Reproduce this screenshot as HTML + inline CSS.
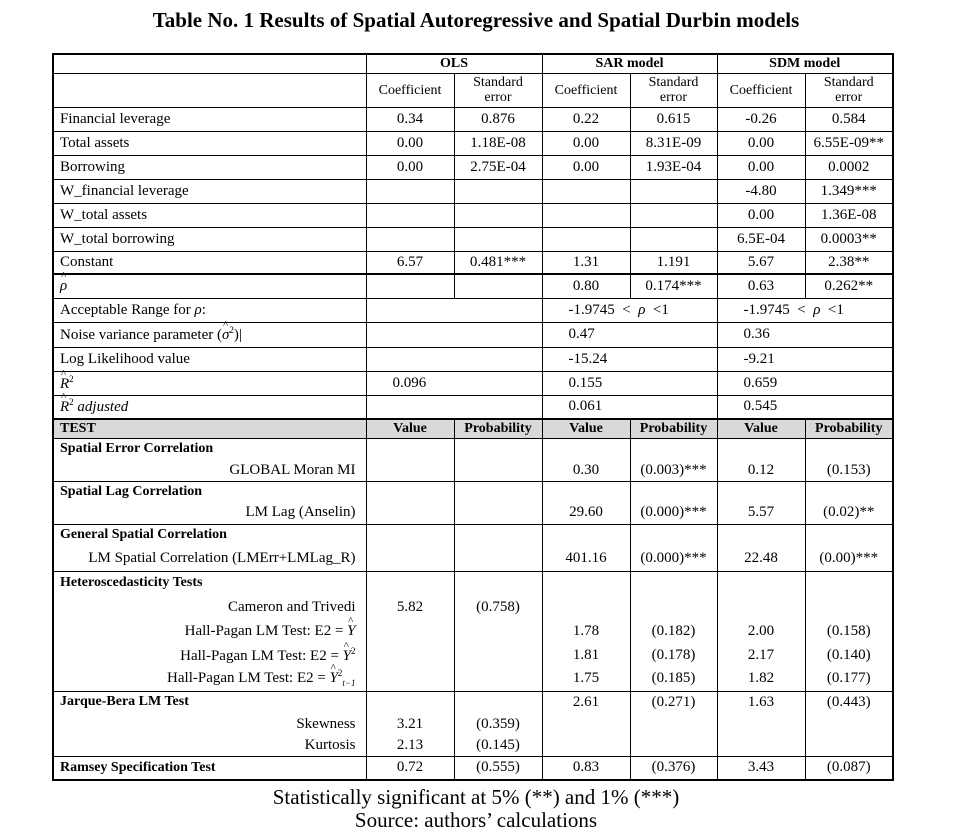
<!DOCTYPE html>
<html><head><meta charset="utf-8"><style>
body{margin:0;width:966px;height:840px;background:#fff;font-family:"Liberation Serif",serif;color:#000;position:relative;overflow:hidden}
.t{position:absolute;left:0;width:952px;text-align:center;font-weight:bold;font-size:21px;top:8px}
.f{position:absolute;left:0;width:952px;text-align:center;font-size:21px}
table{position:absolute;left:52px;top:53px;border-collapse:collapse;table-layout:fixed;font-size:15px;border:2px solid #000}
td{border-left:1px solid #000;border-right:1px solid #000;padding:0;text-align:center;white-space:nowrap;overflow:visible;line-height:1}
tr.b td{border-top:1px solid #000}
tr.k td{border-top:2px solid #000}
td.l{text-align:left;padding-left:6px}
td.r{text-align:right;padding-right:10px}
td.m{text-align:left;padding-left:26px}
.h td{font-size:14px;line-height:15px}
.g td{background:#d9d9d9;font-weight:bold;font-size:14px}
.bb{font-weight:bold;font-size:14px}
.hat{position:relative;display:inline-block}
.hat:before{content:"^";position:absolute;left:1px;top:-8px;font-size:11px;font-style:normal}
</style></head><body>
<div class="t">Table No. 1 Results of Spatial Autoregressive and Spatial Durbin models</div>
<table>
<colgroup><col style="width:313px"><col style="width:88px"><col style="width:88px"><col style="width:88px"><col style="width:87px"><col style="width:88px"><col style="width:88px"></colgroup>
<tr class="b" style="height:19px"><td></td><td colspan="2" class="bb">OLS</td><td colspan="2" class="bb">SAR model</td><td colspan="2" class="bb">SDM model</td></tr>
<tr class="b h" style="height:34px"><td></td><td>Coefficient</td><td>Standard<br>error</td><td>Coefficient</td><td>Standard<br>error</td><td>Coefficient</td><td>Standard<br>error</td></tr>
<tr class="b" style="height:24px"><td class="l">Financial leverage</td><td>0.34</td><td>0.876</td><td>0.22</td><td>0.615</td><td>-0.26</td><td>0.584</td></tr>
<tr class="b" style="height:24px"><td class="l">Total assets</td><td>0.00</td><td>1.18E-08</td><td>0.00</td><td>8.31E-09</td><td>0.00</td><td>6.55E-09**</td></tr>
<tr class="b" style="height:24px"><td class="l">Borrowing</td><td>0.00</td><td>2.75E-04</td><td>0.00</td><td>1.93E-04</td><td>0.00</td><td>0.0002</td></tr>
<tr class="b" style="height:24px"><td class="l">W_financial leverage</td><td></td><td></td><td></td><td></td><td>-4.80</td><td>1.349***</td></tr>
<tr class="b" style="height:24px"><td class="l">W_total assets</td><td></td><td></td><td></td><td></td><td>0.00</td><td>1.36E-08</td></tr>
<tr class="b" style="height:24px"><td class="l">W_total borrowing</td><td></td><td></td><td></td><td></td><td>6.5E-04</td><td>0.0003**</td></tr>
<tr class="b" style="height:23px"><td class="l">Constant</td><td>6.57</td><td>0.481***</td><td>1.31</td><td>1.191</td><td>5.67</td><td>2.38**</td></tr>
<tr class="k" style="height:24px"><td class="l"><i class="hat">ρ</i></td><td></td><td></td><td>0.80</td><td>0.174***</td><td>0.63</td><td>0.262**</td></tr>
<tr class="b" style="height:24px"><td class="l">Acceptable Range for <i>ρ</i>:</td><td colspan="2"></td><td colspan="2" class="m">-1.9745 &nbsp;&lt; &nbsp;<i>ρ</i> &nbsp;&lt;1</td><td colspan="2" class="m">-1.9745 &nbsp;&lt; &nbsp;<i>ρ</i> &nbsp;&lt;1</td></tr>
<tr class="b" style="height:25px"><td class="l">Noise variance parameter (<i class="hat">σ</i><sup style="font-size:9px">2</sup>)|</td><td colspan="2"></td><td colspan="2" class="m">0.47</td><td colspan="2" class="m">0.36</td></tr>
<tr class="b" style="height:24px"><td class="l">Log Likelihood value</td><td colspan="2"></td><td colspan="2" class="m">-15.24</td><td colspan="2" class="m">-9.21</td></tr>
<tr class="b" style="height:24px"><td class="l"><i class="hat">R</i><sup style="font-size:9px">2</sup></td><td colspan="2" class="m">0.096</td><td colspan="2" class="m">0.155</td><td colspan="2" class="m">0.659</td></tr>
<tr class="b" style="height:24px"><td class="l"><i class="hat">R</i><sup style="font-size:9px">2</sup> <i>adjusted</i></td><td colspan="2"></td><td colspan="2" class="m">0.061</td><td colspan="2" class="m">0.545</td></tr>
<tr class="k g" style="height:19px"><td class="l">TEST</td><td>Value</td><td>Probability</td><td>Value</td><td>Probability</td><td>Value</td><td>Probability</td></tr>
<tr class="b" style="height:22px"><td class="l bb">Spatial Error Correlation</td><td></td><td></td><td></td><td></td><td></td><td></td></tr>
<tr style="height:21px"><td class="r">GLOBAL Moran MI</td><td></td><td></td><td>0.30</td><td>(0.003)***</td><td>0.12</td><td>(0.153)</td></tr>
<tr class="b" style="height:21px"><td class="l bb">Spatial Lag Correlation</td><td></td><td></td><td></td><td></td><td></td><td></td></tr>
<tr style="height:22px"><td class="r">LM Lag (Anselin)</td><td></td><td></td><td>29.60</td><td>(0.000)***</td><td>5.57</td><td>(0.02)**</td></tr>
<tr class="b" style="height:22px"><td class="l bb">General Spatial Correlation</td><td></td><td></td><td></td><td></td><td></td><td></td></tr>
<tr style="height:25px"><td class="r">LM Spatial Correlation (LMErr+LMLag_R)</td><td></td><td></td><td>401.16</td><td>(0.000)***</td><td>22.48</td><td>(0.00)***</td></tr>
<tr class="b" style="height:24px"><td class="l bb">Heteroscedasticity Tests</td><td></td><td></td><td></td><td></td><td></td><td></td></tr>
<tr style="height:24px"><td class="r">Cameron and Trivedi</td><td>5.82</td><td>(0.758)</td><td></td><td></td><td></td><td></td></tr>
<tr style="height:24px"><td class="r">Hall-Pagan LM Test: E2 = <i class="hat">Y</i></td><td></td><td></td><td>1.78</td><td>(0.182)</td><td>2.00</td><td>(0.158)</td></tr>
<tr style="height:24px"><td class="r">Hall-Pagan LM Test: E2 = <i class="hat">Y</i><sup style="font-size:9px">2</sup></td><td></td><td></td><td>1.81</td><td>(0.178)</td><td>2.17</td><td>(0.140)</td></tr>
<tr style="height:24px"><td class="r">Hall-Pagan LM Test: E2 = <i class="hat">Y</i><sup style="font-size:9px">2</sup><sub style="font-size:9px"><i>t−1</i></sub></td><td></td><td></td><td>1.75</td><td>(0.185)</td><td>1.82</td><td>(0.177)</td></tr>
<tr class="b" style="height:22px"><td class="l bb">Jarque-Bera LM Test</td><td></td><td></td><td>2.61</td><td>(0.271)</td><td>1.63</td><td>(0.443)</td></tr>
<tr style="height:23px"><td class="r">Skewness</td><td>3.21</td><td>(0.359)</td><td></td><td></td><td></td><td></td></tr>
<tr style="height:20px"><td class="r">Kurtosis</td><td>2.13</td><td>(0.145)</td><td></td><td></td><td></td><td></td></tr>
<tr class="b" style="height:24px"><td class="l bb">Ramsey Specification Test</td><td>0.72</td><td>(0.555)</td><td>0.83</td><td>(0.376)</td><td>3.43</td><td>(0.087)</td></tr>
</table>
<div class="f" style="top:785px">Statistically significant at 5% (**) and 1% (***)</div>
<div class="f" style="top:808px">Source: authors’ calculations</div>
</body></html>
